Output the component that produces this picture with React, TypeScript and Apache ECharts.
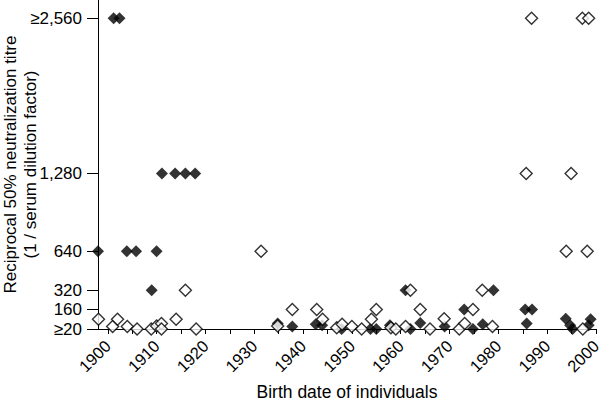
import React, { useEffect, useRef } from "react";
import * as echarts from "echarts";

const xTickValues = [1900,1905,1910,1915,1920,1925,1930,1935,1940,1945,1950,1955,1960,1965,1970,1975,1980,1985,1990,1995,2000];
const xLabelValues = [1900,1910,1920,1930,1940,1950,1960,1970,1980,1990,2000];
const yTickValues = [0, 160, 320, 640, 1280, 2560];

// filled diamonds: [birth year, titre]
const filledPoints: [number, number][] = [
  [1901.2, 2560], [1902.4, 2560],
  [1911.1, 1280], [1913.8, 1280], [1915.9, 1280], [1917.9, 1280],
  [1898, 640], [1903.9, 640], [1905.8, 640], [1910, 640],
  [1909, 320], [1961, 320], [1979, 320],
  [1934.8, 45], [1937.8, 20], [1942.6, 40], [1943.9, 30], [1947.9, 0],
  [1953.8, 0], [1955, 0], [1957.8, 30], [1962, 0], [1964, 50], [1969, 20],
  [1973, 160], [1974.8, 0], [1976.8, 40], [1985.5, 160], [1986.9, 160],
  [1985.8, 45], [1993.8, 85], [1994.7, 30], [1995.2, 0], [1998.5, 30], [1998.9, 80],
];

// open diamonds: [birth year, titre]
const openPoints: [number, number][] = [
  [1986.8, 2560], [1997.2, 2560], [1998.5, 2560],
  [1985.7, 1280], [1994.9, 1280],
  [1993.9, 640], [1998.2, 640], [1931.4, 640],
  [1915.9, 320], [1962, 320], [1976.7, 320],
  [1898.1, 80], [1901, 20], [1902, 80], [1904, 20], [1906, 0], [1908.9, 0],
  [1910, 25], [1911, 45], [1911, 0], [1914, 80], [1918.1, 0],
  [1934.8, 25], [1937.8, 160], [1942.8, 160], [1944, 80], [1946.9, 10],
  [1948, 40], [1950, 20], [1952, 0], [1954, 80], [1955, 160], [1958, 10],
  [1959, 0], [1961, 20], [1964, 160], [1966, 0], [1968.9, 85], [1972, 0],
  [1973.1, 45], [1974.8, 160], [1978.8, 20], [1997.3, 0],
];

const FONT = "'Liberation Sans', Arial, Helvetica, sans-serif";

function formatY(v: number): string {
  if (v === 0) return "≥20";
  if (v === 2560) return "≥2,560";
  return v.toLocaleString("en-US");
}

export default function App() {
  const ref = useRef<HTMLDivElement>(null);
  useEffect(() => {
    if (!ref.current) return;
    const chart = echarts.init(ref.current, null, { renderer: "svg" });
    chart.setOption({
      animation: false,
      backgroundColor: "#fff",
      grid: { left: 98, right: 4, top: 0, bottom: 76, containLabel: false, outerBoundsMode: "none" },
      xAxis: {
        type: "value",
        min: 1898,
        max: 2000,
        name: "Birth date of individuals",
        nameLocation: "middle",
        nameGap: 54,
        nameMoveOverlap: false,
        nameTextStyle: { fontFamily: FONT, fontSize: 17.5, color: "#000" },
        axisLine: { show: true, lineStyle: { color: "#000", width: 1 } },
        axisTick: { show: true, length: 5, lineStyle: { color: "#000" }, customValues: xTickValues },
        axisLabel: {
          customValues: xLabelValues,
          rotate: 45,
          margin: 14,
          fontFamily: FONT,
          fontSize: 16.5,
          color: "#000",
          formatter: (v: number) => String(v),
        },
        splitLine: { show: false },
      },
      yAxis: {
        type: "value",
        min: 0,
        max: 2710,
        name: "Reciprocal 50% neutralization titre\n(1 / serum dilution factor)",
        nameLocation: "middle",
        nameRotate: 90,
        nameGap: 58,
        nameMoveOverlap: false,
        nameTextStyle: { fontFamily: FONT, fontSize: 17, color: "#000", lineHeight: 20 },
        axisLine: { show: true, lineStyle: { color: "#000", width: 1 } },
        axisTick: { show: true, length: 11, lineStyle: { color: "#000" }, customValues: yTickValues },
        axisLabel: {
          customValues: yTickValues,
          margin: 16,
          fontFamily: FONT,
          fontSize: 17,
          color: "#000",
          formatter: (v: number) => formatY(v),
        },
        splitLine: { show: false },
      },
      series: [
        {
          type: "scatter",
          name: "filled",
          data: filledPoints,
          symbol: "diamond",
          symbolSize: 12,
          clip: false,
          itemStyle: { color: "#000" },
          z: 2,
        },
        {
          type: "scatter",
          name: "open",
          data: openPoints,
          symbol: "diamond",
          symbolSize: 12,
          clip: false,
          itemStyle: { color: "#fff", borderColor: "#000", borderWidth: 1.4 },
          z: 3,
        },
      ],
    });
    return () => chart.dispose();
  }, []);
  return <div ref={ref} style={{ width: 600, height: 405, position: "absolute", left: 0, top: 0 }} />;
}
